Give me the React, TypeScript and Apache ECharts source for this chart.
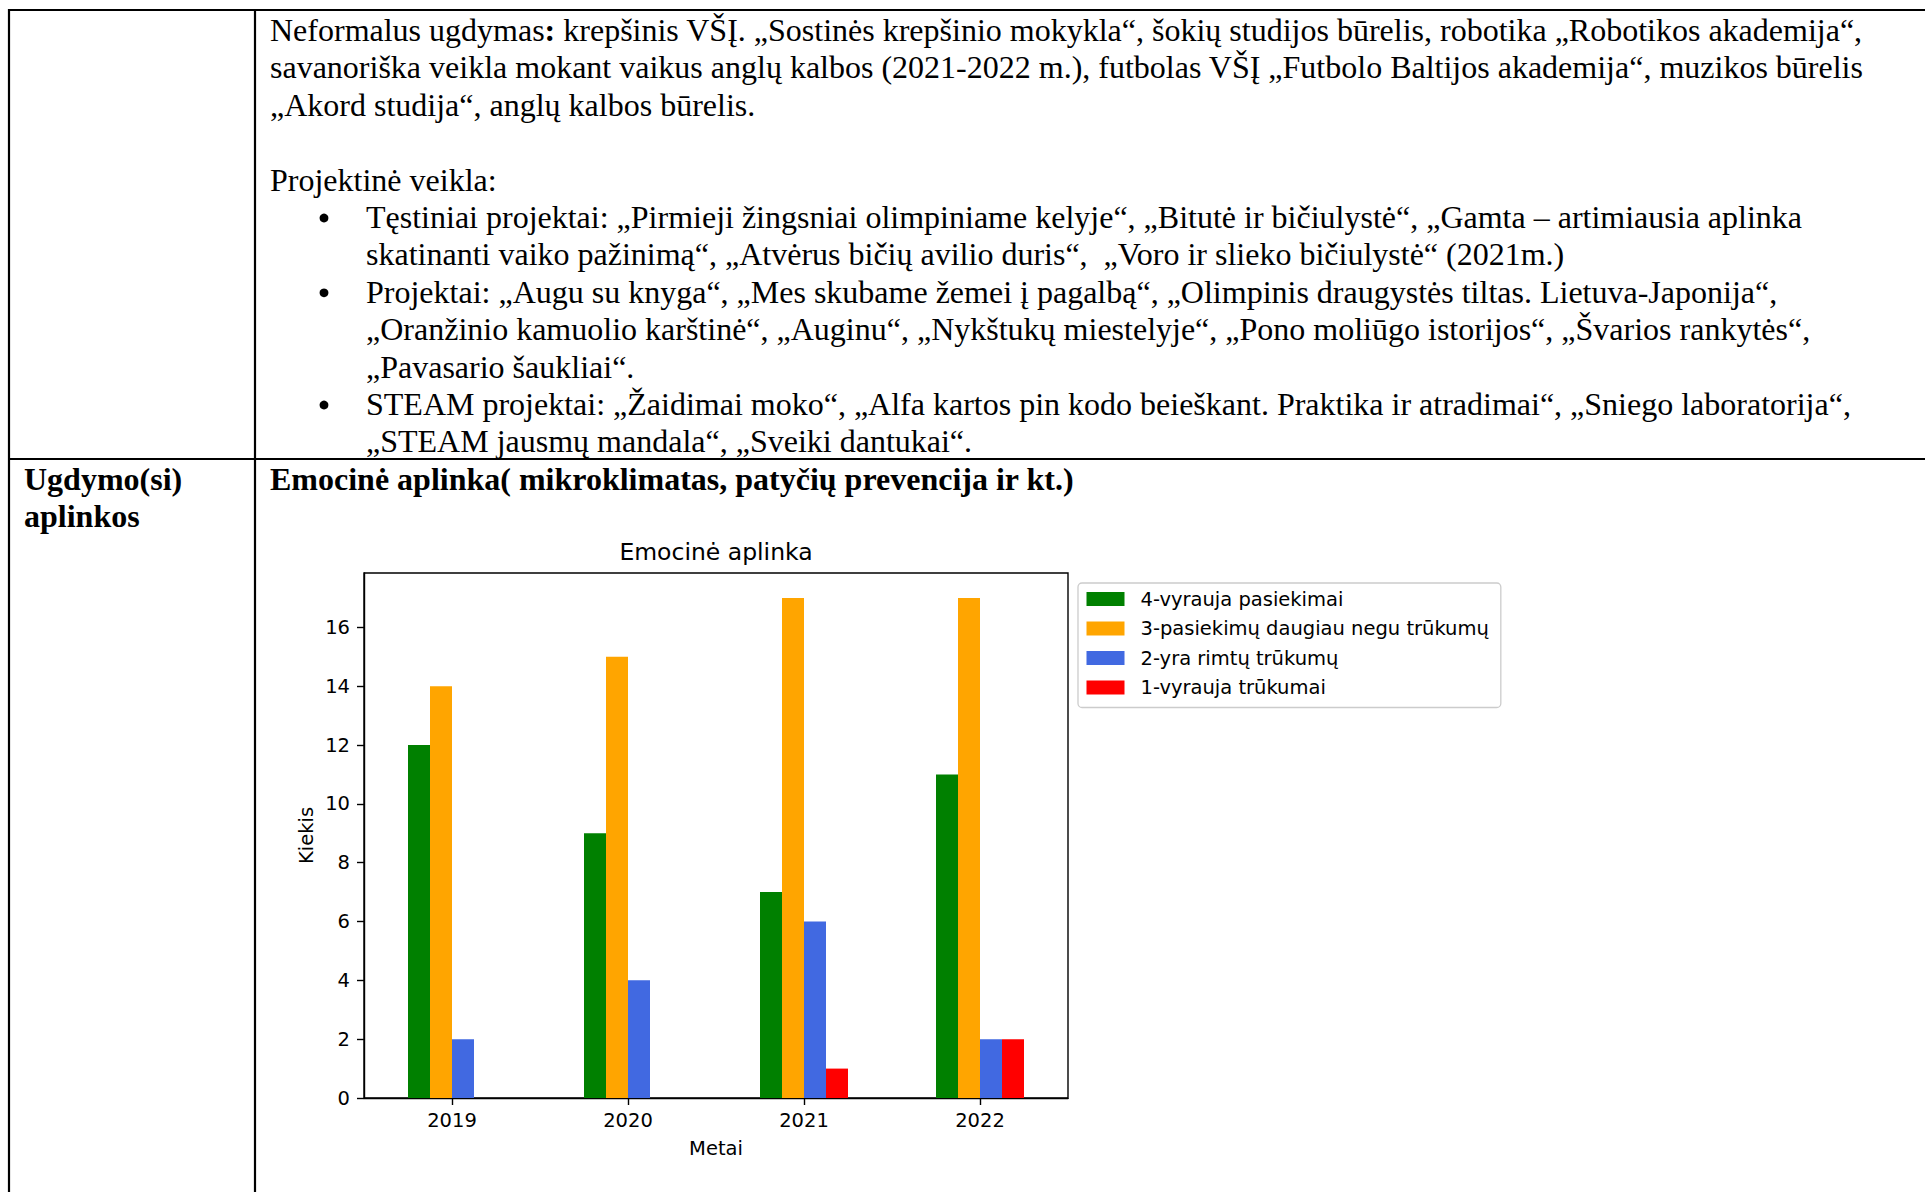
import React, { useEffect, useRef } from "react";
import * as echarts from "echarts";

const categories = ["2019", "2020", "2021", "2022"];
const seriesNames = [
  "4-vyrauja pasiekimai",
  "3-pasiekimų daugiau negu trūkumų",
  "2-yra rimtų trūkumų",
  "1-vyrauja trūkumai",
];
const green4 = [12, 9, 7, 11];
const orange3 = [14, 15, 17, 17];
const blue2 = [2, 4, 6, 2];
const red1 = [0, 0, 1, 2];
const seriesColors = ["#008000", "#FFA500", "#4169E1", "#FF0000"];
const yTicks = [0, 2, 4, 6, 8, 10, 12, 14, 16];
const yMax = 17.85;

const chartTitle = "Emocinė aplinka";
const xName = "Metai";
const yName = "Kiekis";

const docLines: { text: string; indent: "main" | "bullet"; bullet?: boolean; row: number }[] = [
  { text: "Neformalus ugdymas{b|:} krepšinis VŠĮ. „Sostinės krepšinio mokykla“, šokių studijos būrelis, robotika „Robotikos akademija“,", indent: "main", row: 0 },
  { text: "savanoriška veikla mokant vaikus anglų kalbos (2021-2022 m.), futbolas VŠĮ „Futbolo Baltijos akademija“, muzikos būrelis", indent: "main", row: 1 },
  { text: "„Akord studija“, anglų kalbos būrelis.", indent: "main", row: 2 },
  { text: "Projektinė veikla:", indent: "main", row: 4 },
  { text: "Tęstiniai projektai: „Pirmieji žingsniai olimpiniame kelyje“, „Bitutė ir bičiulystė“, „Gamta – artimiausia aplinka", indent: "bullet", bullet: true, row: 5 },
  { text: "skatinanti vaiko pažinimą“, „Atvėrus bičių avilio duris“,  „Voro ir slieko bičiulystė“ (2021m.)", indent: "bullet", row: 6 },
  { text: "Projektai: „Augu su knyga“, „Mes skubame žemei į pagalbą“, „Olimpinis draugystės tiltas. Lietuva-Japonija“,", indent: "bullet", bullet: true, row: 7 },
  { text: "„Oranžinio kamuolio karštinė“, „Auginu“, „Nykštukų miestelyje“, „Pono moliūgo istorijos“, „Švarios rankytės“,", indent: "bullet", row: 8 },
  { text: "„Pavasario šaukliai“.", indent: "bullet", row: 9 },
  { text: "STEAM projektai: „Žaidimai moko“, „Alfa kartos pin kodo beieškant. Praktika ir atradimai“, „Sniego laboratorija“,", indent: "bullet", bullet: true, row: 10 },
  { text: "„STEAM jausmų mandala“, „Sveiki dantukai“.", indent: "bullet", row: 11 },
];
const sectionHeading = "Emocinė aplinka( mikroklimatas, patyčių prevencija ir kt.)";
const rowHeaderLines = ["Ugdymo(si)", "aplinkos"];

export default function App() {
  const ref = useRef<HTMLDivElement>(null);
  useEffect(() => {
    if (!ref.current) return;
    const chart = echarts.init(ref.current, undefined, { renderer: "svg" });
    const serif = "Liberation Serif";
    const sans = "DejaVu Sans";
    const docFont = 32;
    const boldFont = 32;
    const lineY = (r: number) => 30 + 37.4 * r;

    const graphics: any[] = [];
    const ln = (x1: number, y1: number, x2: number, y2: number) =>
      graphics.push({ type: "line", shape: { x1, y1, x2, y2 }, style: { stroke: "#000", lineWidth: 2.2 }, silent: true });
    ln(8, 10, 1925, 10);
    ln(9, 9, 9, 1192);
    ln(255, 9, 255, 1192);
    ln(8, 459, 1925, 459);

    docLines.forEach((l) => {
      const x = l.indent === "main" ? 270 : 366;
      graphics.push({
        type: "text",
        x,
        y: lineY(l.row),
        style: {
          text: l.text,
          fontSize: docFont,
          fontFamily: serif,
          fill: "#000",
          textAlign: "left",
          textVerticalAlign: "middle",
          rich: { b: { fontSize: docFont, fontFamily: serif, fontWeight: "bold", fill: "#000" } },
        },
      });
      if (l.bullet) {
        graphics.push({
          type: "circle",
          shape: { cx: 324, cy: lineY(l.row) + 1, r: 4.4 },
          style: { fill: "#000" },
          silent: true,
        });
      }
    });
    graphics.push({
      type: "text",
      x: 270,
      y: 479,
      style: { text: sectionHeading, fontSize: boldFont, fontWeight: "bold", fontFamily: serif, fill: "#000", textAlign: "left", textVerticalAlign: "middle" },
    });
    rowHeaderLines.forEach((t, i) =>
      graphics.push({
        type: "text",
        x: 24,
        y: 479 + 37.4 * i,
        style: { text: t, fontSize: boldFont, fontWeight: "bold", fontFamily: serif, fill: "#000", textAlign: "left", textVerticalAlign: "middle" },
      })
    );
    graphics.push({
      type: "text",
      x: 716,
      y: 552,
      style: { text: chartTitle, fontSize: 23.5, fontFamily: sans, fill: "#000", textAlign: "center", textVerticalAlign: "middle" },
    });

    const data = [green4, orange3, blue2, red1];
    chart.setOption({
      animation: false,
      graphic: graphics,
      grid: {
        left: 364,
        top: 573,
        width: 704,
        height: 525,
        show: true,
        borderColor: "#000",
        borderWidth: 1.4,
        backgroundColor: "#fff",
      },
      legend: {
        orient: "vertical",
        left: 1078,
        top: 583,
        padding: [6, 12, 10, 8.5],
        itemWidth: 38,
        itemHeight: 14,
        itemGap: 9.5,
        icon: "rect",
        borderColor: "#cccccc",
        borderWidth: 1.3,
        borderRadius: 4,
        backgroundColor: "#fff",
        textStyle: { fontSize: 19.5, fontFamily: sans, color: "#000", lineHeight: 20, padding: [0, 0, 0, 11] },
        data: seriesNames,
      },
      xAxis: {
        type: "category",
        data: categories,
        boundaryGap: true,
        name: xName,
        nameLocation: "middle",
        nameGap: 40,
        nameTextStyle: { fontSize: 19.5, fontFamily: sans, color: "#000" },
        axisLine: { show: true, lineStyle: { color: "#000", width: 1.4 } },
        axisTick: { show: true, alignWithLabel: true, length: 7, lineStyle: { color: "#000", width: 1.4 } },
        axisLabel: { fontSize: 19.5, fontFamily: sans, color: "#000", margin: 12 },
        splitLine: { show: false },
      },
      yAxis: {
        type: "value",
        min: 0,
        max: yMax,
        name: yName,
        nameLocation: "middle",
        nameGap: 48,
        nameTextStyle: { fontSize: 19.5, fontFamily: sans, color: "#000" },
        axisLine: { show: true, lineStyle: { color: "#000", width: 1.4 } },
        axisTick: { show: true, length: 7, customValues: yTicks, lineStyle: { color: "#000", width: 1.4 } },
        axisLabel: { fontSize: 19.5, fontFamily: sans, color: "#000", margin: 14, customValues: yTicks },
        splitLine: { show: false },
      },
      series: seriesNames.map((name, i) => ({
        name,
        type: "bar",
        data: data[i],
        barWidth: "12.5%",
        barGap: "0%",
        itemStyle: { color: seriesColors[i] },
      })),
    });
    return () => chart.dispose();
  }, []);
  return (
    <div
      ref={ref}
      style={{ position: "fixed", left: 0, top: 0, width: 1925, height: 1192, background: "#fff" }}
    />
  );
}
